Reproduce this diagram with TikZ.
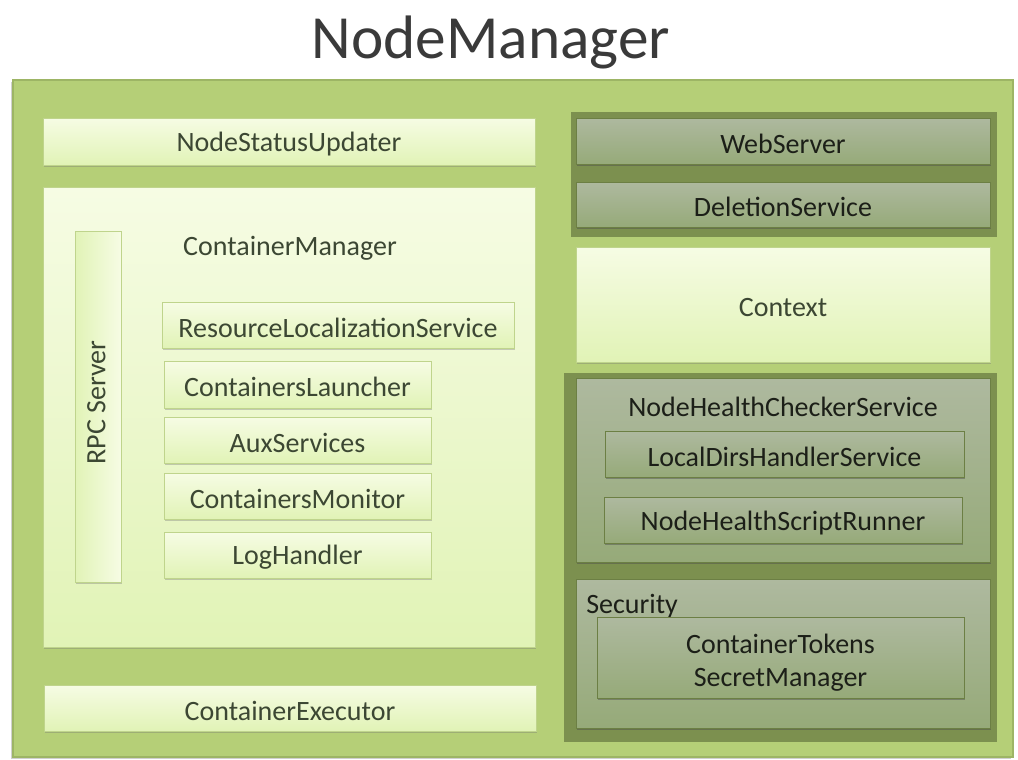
\documentclass[tikz,border=0pt]{standalone}
\usepackage{fontspec}
\setmainfont{Carlito}
\usetikzlibrary{fit,shadows}

\definecolor{outerfill}{HTML}{B5CF77}
\definecolor{outerline}{HTML}{9DB565}
\definecolor{lighttop}{HTML}{F6FCE4}
\definecolor{lightbot}{HTML}{E1F3B6}
\definecolor{lightline}{HTML}{BFD48C}
\definecolor{groupfill}{HTML}{7C904F}
\definecolor{darktop}{HTML}{AEB99F}
\definecolor{darkbot}{HTML}{96AA79}
\definecolor{darkline}{HTML}{6C7F44}
\definecolor{lighttext}{HTML}{3C4733}
\definecolor{darktext}{HTML}{1C1F18}
\definecolor{titletext}{HTML}{3A3A3A}

\tikzset{
  body/.style={font=\fontsize{21}{25}\selectfont},
  box/.style={rectangle, inner sep=0pt, outer sep=0pt},
  lightbox/.style={box, draw=lightline, line width=0.6pt,
    top color=lighttop, bottom color=lightbot,
    drop shadow={shadow xshift=0.6pt, shadow yshift=-1.6pt, opacity=0.35, fill=black!55}},
  darkbox/.style={box, draw=darkline, line width=0.6pt,
    top color=darktop, bottom color=darkbot,
    drop shadow={shadow xshift=0.6pt, shadow yshift=-1.6pt, opacity=0.45, fill=black!70}},
  group/.style={box, fill=groupfill, draw=none},
  ltext/.style={body, inner sep=0pt, text=lighttext, yshift=-2pt},
  dtext/.style={body, inner sep=0pt, text=darktext, yshift=-2pt},
}

\begin{document}
\begin{tikzpicture}[x=0.75pt, y=-0.75pt]
  \useasboundingbox (0,0) rectangle (1018,760);
  \fill[white] (0,0) rectangle (1018,760);

  % title
  \node[font=\fontsize{46}{50}\selectfont, text=titletext, anchor=base, inner sep=0pt]
    (title) at (491,58) {NodeManager};

  % outer NodeManager panel
  \node[box, fill=outerfill, draw=outerline, line width=0.8pt,
    drop shadow={shadow xshift=-1.2pt, shadow yshift=-1.2pt, opacity=0.3, fill=black!60},
    fit={(13,80) (1013,757)}] (outer) {};

  % left column: status updater
  \node[lightbox, fit={(43,118) (535,165)}] (nsu) {};
  \node[ltext] (nsu-t) at (nsu) {NodeStatusUpdater};

  % container manager with its services
  \node[lightbox, fit={(43,187) (535,647)}] (cm) {};
  \node[ltext] (cm-t) at (290,246) {ContainerManager};

  \node[box, draw=lightline, line width=0.6pt, left color=lightbot, right color=lighttop,
    drop shadow={shadow xshift=0.6pt, shadow yshift=-1.6pt, opacity=0.35, fill=black!55},
    fit={(75,231) (121,582)}] (rpc) {};
  \node[ltext, rotate=90, yshift=2pt] (rpc-t) at (99,400) {RPC Server};

  \node[lightbox, fit={(162,302) (514,348)}] (rls) {};
  \node[ltext] (rls-t) at (rls) {ResourceLocalizationService};
  \node[lightbox, fit={(164,361) (431,408)}] (cl) {};
  \node[ltext] (cl-t) at (cl) {ContainersLauncher};
  \node[lightbox, fit={(164,417) (431,463)}] (aux) {};
  \node[ltext] (aux-t) at (aux) {AuxServices};
  \node[lightbox, fit={(164,473) (431,519)}] (cmon) {};
  \node[ltext] (cmon-t) at (cmon) {ContainersMonitor};
  \node[lightbox, fit={(164,532) (431,578)}] (log) {};
  \node[ltext] (log-t) at (log) {LogHandler};

  % executor
  \node[lightbox, fit={(44,685) (536,731)}] (exec) {};
  \node[ltext] (exec-t) at (exec) {ContainerExecutor};

  % right column: web server and deletion service
  \node[group, fit={(571,112) (997,237)}] (grp1) {};
  \node[darkbox, fit={(576,118) (990,164)}] (web) {};
  \node[dtext] (web-t) at (web) {WebServer};
  \node[darkbox, fit={(576,182) (990,227)}] (del) {};
  \node[dtext] (del-t) at (del) {DeletionService};

  % context
  \node[lightbox, fit={(576,247) (990,362)}] (ctx) {};
  \node[ltext] (ctx-t) at (ctx) {Context};

  % health checking and security
  \node[group, fit={(564,373) (997,742)}] (grp2) {};
  \node[darkbox, fit={(576,378) (990,562)}] (nhc) {};
  \node[dtext] (nhc-t) at (783,404) {NodeHealthCheckerService};
  \node[darkbox, fit={(605,431) (964,477)}] (ldh) {};
  \node[dtext] (ldh-t) at (ldh) {LocalDirsHandlerService};
  \node[darkbox, fit={(604,497) (962,543)}] (nhs) {};
  \node[dtext] (nhs-t) at (nhs) {NodeHealthScriptRunner};

  \node[darkbox, fit={(576,579) (990,728)}] (sec) {};
  \node[dtext, anchor=base west, yshift=2pt] (sec-t) at (586,613) {Security};
  \node[darkbox, fit={(597,617) (964,698)}] (ctsm) {};
  \node[dtext, align=center, yshift=-2pt] (ctsm-t) at (ctsm) {ContainerTokens\\SecretManager};
\end{tikzpicture}
\end{document}
